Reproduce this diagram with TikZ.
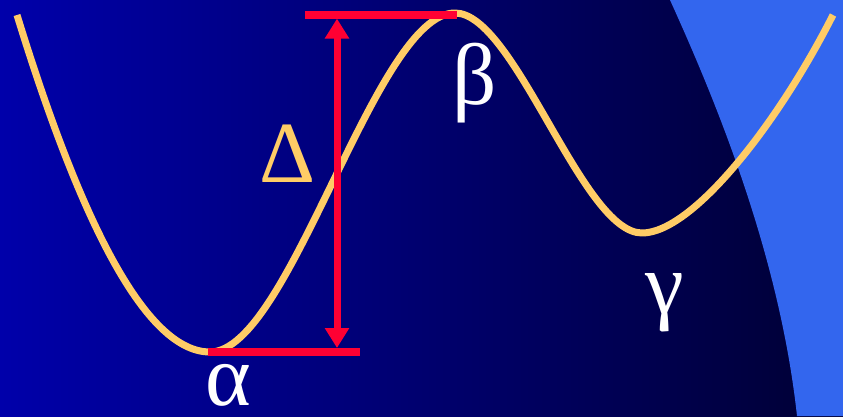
\documentclass[tikz,border=0pt]{standalone}
\usepackage{fontspec}
\setmainfont{Liberation Serif}
\usetikzlibrary{arrows.meta}
\definecolor{bgLeft}{HTML}{0000AA}
\definecolor{bgRight}{HTML}{000033}
\definecolor{edgeBlue}{HTML}{3366EE}
\definecolor{curveGold}{HTML}{FFCC66}
\definecolor{barRed}{HTML}{FF0033}

\begin{document}
\begin{tikzpicture}[
  x=0.025cm, y=-0.025cm,
  energy/.style={curveGold, line width=0.175cm, line join=round},
  bar/.style={barRed, line width=0.2cm},
  gap/.style={barRed, line width=0.175cm,
    {Triangle[length=5mm, width=5.8mm]}-{Triangle[length=5mm, width=5.8mm]}},
  greek/.style={font=\fontsize{62}{62}\selectfont, inner sep=0pt, anchor=base west, #1},
]

% Background
\useasboundingbox (0,0) rectangle (843,416);
\shade[left color=bgLeft, right color=bgRight] (0,0) rectangle (843,416);
\fill[edgeBlue] (670,0) .. controls (720,110) and (780,260) .. (797,416)
  -- (843,416) -- (843,0) -- cycle;

% Energy curve
\coordinate (start) at (17,15);
\coordinate (wellA) at (210,352);
\coordinate (peakB) at (455,13);
\coordinate (wellC) at (642,233);
\coordinate (finish) at (833,15);
\draw[energy] (start) .. controls (73,197) and (140,352) .. (wellA)
  .. controls (290,352) and (375,13) .. (peakB)
  .. controls (515,13) and (582,233) .. (wellC)
  .. controls (692,233) and (777,125.5) .. (finish);

% Levels
\coordinate (topL) at (305,14.6);
\coordinate (topR) at (457,14.6);
\coordinate (lowL) at (208,352);
\coordinate (lowR) at (360,352);
\coordinate (gapTop) at (337,18.6);
\coordinate (gapLow) at (337,348);
\draw[bar] (topL) -- (topR);
\draw[bar] (lowL) -- (lowR);
\draw[gap] (gapTop) -- (gapLow);

% Labels
\node[greek=curveGold] (delta) at (259,182) {Δ};
\node[greek=white] (alpha) at (205,405) {α};
\node[greek=white] (beta) at (452,104) {β};
\node[greek=white] (gamma) at (645,313) {γ};

\end{tikzpicture}
\end{document}
